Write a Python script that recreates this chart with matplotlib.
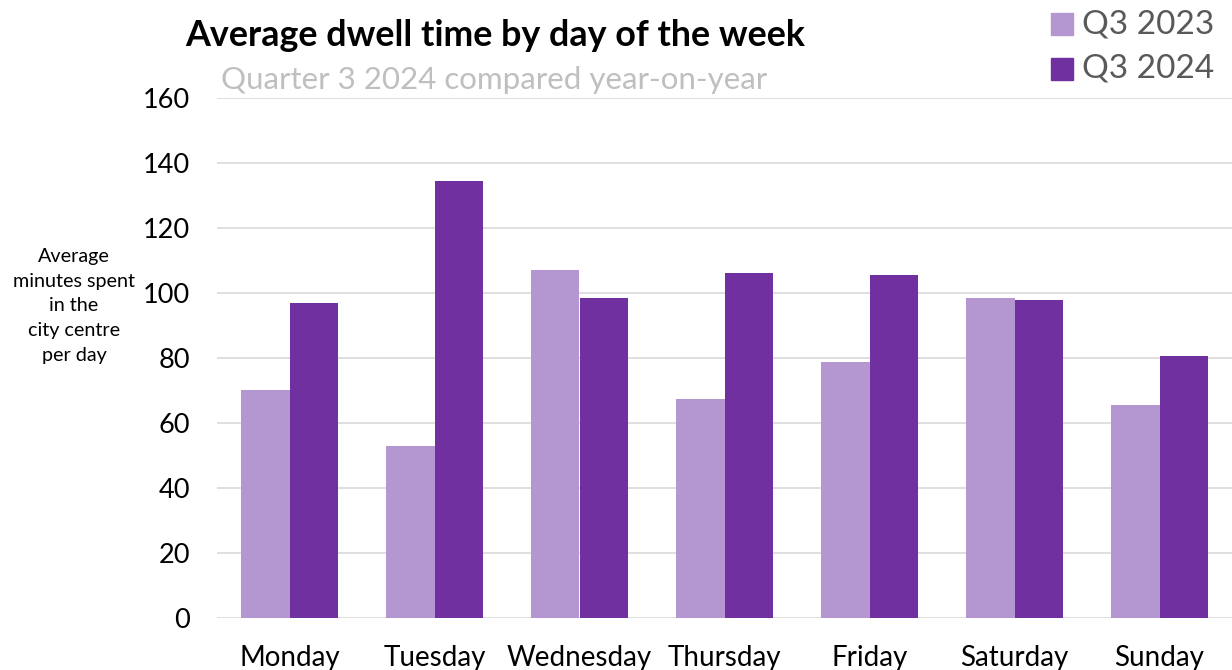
import matplotlib
matplotlib.use("Agg")
import matplotlib.pyplot as plt
import numpy as np
from matplotlib.patches import Rectangle

plt.rcParams['font.family'] = ['Lato', 'DejaVu Sans']

days = ["Monday", "Tuesday", "Wednesday", "Thursday", "Friday", "Saturday", "Sunday"]
q3_2023 = [70.2, 52.9, 107.1, 67.4, 78.8, 98.5, 65.5]
q3_2024 = [96.9, 134.5, 98.5, 106.2, 105.5, 97.8, 80.6]
series_labels = ["Q3 2023", "Q3 2024"]
yticks = [0, 20, 40, 60, 80, 100, 120, 140, 160]

c23 = "#B497D0"
c24 = "#7030A0"

fig = plt.figure(figsize=(12.32, 6.70), dpi=100)
ax = fig.add_axes([217/1232, 1-618/670, (1232-217)/1232, (618-98)/670])

x = np.arange(len(days))
w = 0.333
ax.bar(x - w/2, q3_2023, width=w, color=c23, zorder=3)
ax.bar(x + w/2, q3_2024, width=w, color=c24, zorder=3)

ax.set_xlim(-0.5, len(days) - 0.5)
ax.set_ylim(0, 160)
ax.set_yticks(yticks)
ax.set_yticklabels([str(t) for t in yticks], fontsize=19.5)
ax.set_xticks(x)
ax.set_xticklabels(days, fontsize=20)
ax.tick_params(axis='both', length=0)
ax.tick_params(axis='y', pad=19.5)
ax.tick_params(axis='x', pad=19.5)
ax.yaxis.grid(True, color="#D9D9D9", linewidth=1.2, zorder=0)
for s in ax.spines.values():
    s.set_visible(False)

fig.text(495/1232, 1-36/670, "Average dwell time by day of the week", fontsize=25.8,
         fontweight='bold', ha='center', va='center', color='black')
fig.text(494/1232, 1-80/670, "Quarter 3 2024 compared year-on-year", fontsize=22.5,
         ha='center', va='center', color='#BFBFBF')

fig.text(74/1232, 1-306/670, "Average\nminutes spent\nin the\ncity centre\nper day", fontsize=14.2,
         ha='center', va='center', linespacing=1.55)

# legend
for i, (lab, col) in enumerate(zip(series_labels, [c23, c24])):
    yc = 24 + i*45
    fig.patches.append(Rectangle((1051/1232, 1-(yc+11)/670), 22/1232, 22/670,
                                 transform=fig.transFigure, color=col))
    fig.text(1082/1232, 1-yc/670, lab, fontsize=24, ha='left', va='center', color='#595959')

fig.savefig("out.png", dpi=100)
